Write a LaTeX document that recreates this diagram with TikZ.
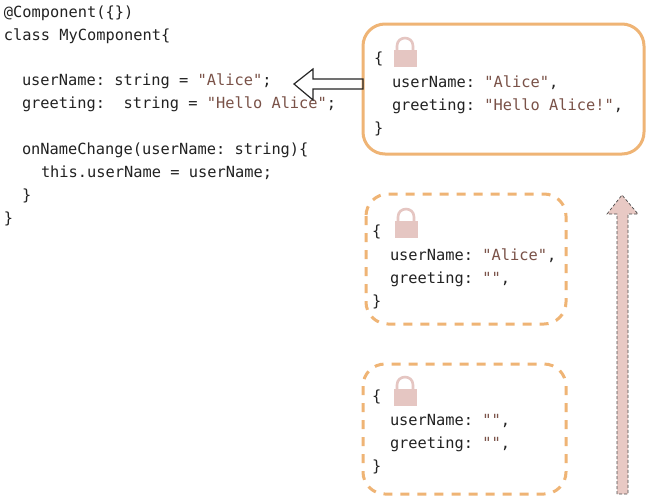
\documentclass[tikz,border=0pt]{standalone}
\usepackage{fontspec}
\setmonofont{DejaVu Sans Mono}
\definecolor{ink}{HTML}{222222}
\definecolor{strc}{HTML}{7A5248}
\definecolor{boxc}{HTML}{EFB475}
\definecolor{lockc}{HTML}{E5C6C2}
\definecolor{arrowc}{HTML}{E8C9C4}
\newcommand{\str}[1]{\textcolor{strc}{#1}}
\tikzset{
  x=1pt,y=-1pt,
  code/.style={anchor=base west,inner sep=0pt,outer sep=0pt,font=\ttfamily\fontsize{15.35}{18}\selectfont,text=ink},
  solidbox/.style={draw=boxc,line width=3pt,rounded corners=22pt},
  dashbox/.style={draw=boxc,line width=3pt,rounded corners=22pt,dash pattern=on 9pt off 8pt},
  lockbody/.style={fill=lockc,draw=none},
  lockbar/.style={draw=lockc,line width=2.6pt},
  hollow/.style={draw=black!85,line width=1.2pt,fill=none},
  uparrow/.style={fill=arrowc,draw=black!70,line width=0.7pt,densely dashed},
  pics/padlock/.style={code={
    \fill[lockbody] (-11.5,0) rectangle (11.5,17);
    \draw[lockbar] (-8,0) -- (-8,-4) .. controls (-8,-14.6) and (8,-14.6) .. (8,-4) -- (8,0);
  }}
}
\begin{document}
\begin{tikzpicture}
\useasboundingbox (0,0) rectangle (650,501);
\fill[white] (0,0) rectangle (650,501);
% left code
\node[code] (c1) at (4,17) {@Component(\{\})};
\node[code] (c2) at (4,40) {class MyComponent\{};
\node[code] (c3) at (22,85) {userName: string = \str{"Alice"};};
\node[code] (c4) at (22,108) {greeting:\ \ string = \str{"Hello Alice"};};
\node[code] (c5) at (22,154) {onNameChange(userName: string)\{};
\node[code] (c6) at (41,177) {this.userName = userName;};
\node[code] (c7) at (22,200) {\}};
\node[code] (c8) at (4,223) {\}};
% boxes
\draw[solidbox] (363,24) rectangle (644,154);
\draw[dashbox] (366,194) rectangle (566,324);
\draw[dashbox] (363,364) rectangle (566,494);
% box 1
\pic at (405,50) {padlock};
\node[code] (a1) at (374,63) {\{};
\node[code] (a2) at (392,87) {userName: \str{"Alice"},};
\node[code] (a3) at (392,110) {greeting: \str{"Hello Alice!"},};
\node[code] (a4) at (374,133) {\}};
% box 2
\pic at (406,221) {padlock};
\node[code] (b1) at (372,236) {\{};
\node[code] (b2) at (390,260) {userName: \str{"Alice"},};
\node[code] (b3) at (390,283) {greeting: \str{""},};
\node[code] (b4) at (372,306) {\}};
% box 3
\pic at (405,389) {padlock};
\node[code] (d1) at (372,401) {\{};
\node[code] (d2) at (390,425) {userName: \str{""},};
\node[code] (d3) at (390,448) {greeting: \str{""},};
\node[code] (d4) at (372,471) {\}};
% arrows
\draw[hollow] (363,79) -- (313,79) -- (313,69) -- (294,84) -- (313,100) -- (313,89) -- (363,89) -- cycle;
\draw[uparrow] (617,494) -- (617,214) -- (607,214) -- (622,195) -- (638,214) -- (628,214) -- (628,494) -- cycle;
\end{tikzpicture}
\end{document}
